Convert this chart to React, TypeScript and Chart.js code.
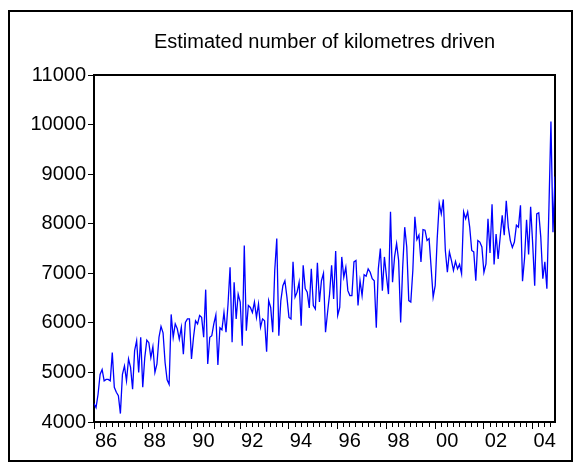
import React, { useEffect, useRef } from "react";
import { Chart, registerables } from "chart.js";

Chart.register(...registerables);

// Monthly estimated kilometres driven, January 1986 to December 2004
const km1986 = [4370, 4290, 4560, 4960, 5060, 4830, 4860, 4860, 4830, 5400, 4700, 4600];
const km1987 = [4530, 4170, 4960, 5130, 4830, 5270, 5100, 4660, 5440, 5640, 5000, 5710];
const km1988 = [4700, 5300, 5650, 5600, 5300, 5520, 5000, 5170, 5710, 5930, 5800, 5200];
const km1989 = [4850, 4760, 6170, 5710, 5980, 5880, 5670, 5910, 5370, 6010, 6080, 6080];
const km1990 = [5270, 5710, 6040, 5980, 6150, 6110, 5710, 6670, 5170, 5710, 5740, 5980];
const km1991 = [6160, 5150, 5900, 5860, 6210, 5810, 6380, 7120, 5610, 6820, 6080, 6580];
const km1992 = [6420, 5540, 7560, 5840, 6350, 6310, 6210, 6420, 6110, 6380, 5910, 6080];
const km1993 = [6040, 5420, 6450, 6310, 5810, 7060, 7700, 5740, 6450, 6750, 6850, 6520];
const km1994 = [6110, 6080, 7230, 6520, 6620, 6820, 5940, 7160, 6690, 6620, 6300, 7090];
const km1995 = [6350, 6280, 7210, 6420, 6850, 7000, 5810, 6210, 6580, 7160, 6480, 7450];
const km1996 = [6150, 6310, 7330, 6920, 7120, 6650, 6550, 6550, 7230, 7260, 6350, 6850];
const km1997 = [6550, 6970, 6940, 7090, 7020, 6890, 6850, 5900, 7090, 7500, 6650, 7330];
const km1998 = [6940, 6580, 8240, 6820, 7330, 7600, 7260, 6010, 7120, 7930, 7530, 6450];
const km1999 = [6420, 7060, 8140, 7680, 7770, 7230, 7880, 7870, 7660, 7700, 7120, 6520];
const km2000 = [6750, 7700, 8410, 8200, 8490, 7460, 7020, 7430, 7260, 7060, 7240, 7090];
const km2001 = [7180, 6990, 8240, 8100, 8240, 7930, 7460, 7430, 6850, 7660, 7630, 7530];
const km2002 = [7020, 7190, 8100, 7410, 8390, 7180, 7790, 7290, 7730, 8170, 7770, 8460];
const km2003 = [7930, 7660, 7520, 7630, 7970, 7930, 8370, 6840, 7300, 8080, 7380, 8340];
const km2004 = [7600, 6750, 8200, 8220, 7730, 6890, 7230, 6690, 8300, 10060, 7830, 8950];

const kilometres = [
  ...km1986, ...km1987, ...km1988, ...km1989, ...km1990, ...km1991, ...km1992,
  ...km1993, ...km1994, ...km1995, ...km1996, ...km1997, ...km1998, ...km1999,
  ...km2000, ...km2001, ...km2002, ...km2003, ...km2004,
];

// Year labels, one every second year
const yearLabels = ["86", "88", "90", "92", "94", "96", "98", "00", "02", "04"];
const yTicks = [4000, 5000, 6000, 7000, 8000, 9000, 10000, 11000];

const FONT = "'Liberation Sans', Arial, Helvetica, sans-serif";
const MONTHS_PER_LABEL = 24;
const MONTHS_PER_TICK = 3;

export default function App() {
  const canvasRef = useRef<HTMLCanvasElement | null>(null);

  useEffect(() => {
    const canvas = canvasRef.current;
    if (!canvas) return;
    const lastIndex = kilometres.length - 1;

    const chart = new Chart(canvas, {
      type: "line",
      data: {
        datasets: [
          {
            data: kilometres.map((v, i) => ({ x: i, y: v })),
            borderColor: "#0000ff",
            borderWidth: 1.3,
            pointRadius: 0,
            tension: 0,
            fill: false,
          },
        ],
      },
      options: {
        animation: false,
        responsive: false,
        devicePixelRatio: 1,
        layout: { padding: { left: 0, right: 16, top: 0, bottom: 0 } },
        plugins: {
          legend: { display: false },
          tooltip: { enabled: false },
          title: {
            display: true,
            fullSize: false,
            text: "Estimated number of kilometres driven",
            color: "#000",
            font: { family: FONT, size: 20, weight: "normal" },
            padding: { top: 18, bottom: 21 },
          },
        },
        scales: {
          x: {
            type: "linear",
            position: "bottom",
            min: 0,
            max: lastIndex,
            afterBuildTicks: (scale: any) => {
              const ticks = [];
              for (let v = 0; v <= lastIndex; v += MONTHS_PER_TICK) ticks.push({ value: v });
              scale.ticks = ticks;
            },
            afterFit: (scale: any) => {
              scale.height = 38;
            },
            grid: {
              display: true,
              drawOnChartArea: false,
              drawTicks: true,
              tickLength: 7,
              tickWidth: 1,
              tickColor: "#000",
              tickBorderDash: (ctx: any) =>
                ctx.tick && ctx.tick.value % MONTHS_PER_LABEL === 0 ? [] : [4, 20],
            },
            border: { display: true, color: "#000", width: 2 },
            ticks: {
              autoSkip: false,
              maxRotation: 0,
              minRotation: 0,
              padding: 0,
              labelOffset: 12,
              color: "#000",
              font: { family: FONT, size: 20 },
              callback: (value: any) => {
                const v = Number(value);
                if (v % MONTHS_PER_LABEL !== 0) return "";
                return yearLabels[v / MONTHS_PER_LABEL] ?? "";
              },
            },
          },
          xTop: {
            type: "linear",
            position: "top",
            min: 0,
            max: lastIndex,
            grid: { display: false },
            ticks: { display: false },
            border: { display: true, color: "#000", width: 2 },
            afterFit: (scale: any) => {
              scale.height = 0;
            },
          },
          y: {
            type: "linear",
            position: "left",
            min: yTicks[0],
            max: yTicks[yTicks.length - 1],
            afterBuildTicks: (scale: any) => {
              scale.ticks = yTicks.map((v) => ({ value: v }));
            },
            afterFit: (scale: any) => {
              scale.width = 84;
            },
            grid: {
              display: true,
              drawOnChartArea: false,
              drawTicks: true,
              tickLength: 6,
              tickWidth: 1,
              tickColor: "#000",
            },
            border: { display: true, color: "#000", width: 2 },
            ticks: {
              padding: 2,
              color: "#000",
              font: { family: FONT, size: 20 },
              callback: (value: any) => String(value),
            },
          },
          yRight: {
            type: "linear",
            position: "right",
            min: yTicks[0],
            max: yTicks[yTicks.length - 1],
            grid: { display: false },
            ticks: { display: false },
            border: { display: true, color: "#000", width: 2 },
            afterFit: (scale: any) => {
              scale.width = 0;
            },
          },
        },
      },
    });

    return () => chart.destroy();
  }, []);

  return (
    <div
      style={{
        position: "absolute",
        left: 8,
        top: 10,
        width: 565,
        height: 452,
        border: "2px solid #000",
        boxSizing: "border-box",
        background: "#fff",
      }}
    >
      <canvas
        ref={canvasRef}
        width={561}
        height={448}
        style={{ display: "block", width: 561, height: 448 }}
      />
    </div>
  );
}
